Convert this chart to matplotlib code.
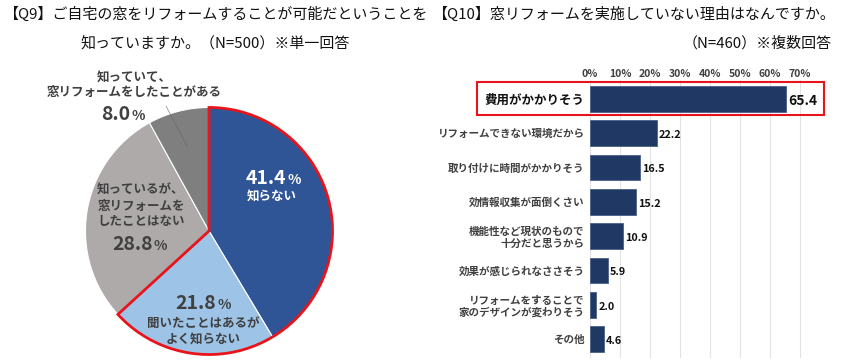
import matplotlib
matplotlib.use("Agg")
import matplotlib.pyplot as plt
from matplotlib.patches import Wedge, Rectangle
import numpy as np

plt.rcParams['font.family'] = ['Noto Sans CJK JP', 'DejaVu Sans']

# ---- data ----
pie_labels = ["知らない", "聞いたことはあるが\nよく知らない",
              "知っているが、\n窓リフォームを\nしたことはない",
              "知っていて、\n窓リフォームをしたことがある"]
pie_values = [41.4, 21.8, 28.8, 8.0]
pie_colors = ["#2F5597", "#9DC3E6", "#AEAAAA", "#7F7F7F"]

bar_labels = ["費用がかかりそう", "リフォームできない環境だから", "取り付けに時間がかかりそう",
              "効情報収集が面倒くさい", "機能性など現状のもので\n十分だと思うから",
              "効果が感じられなささそう", "リフォームをすることで\n家のデザインが変わりそう", "その他"]
bar_values = [65.4, 22.2, 16.5, 15.2, 10.9, 5.9, 2.0, 4.6]
x_ticks = [0, 10, 20, 30, 40, 50, 60, 70, 80]

W, H = 859, 362
fig = plt.figure(figsize=(W/100, H/100), dpi=100)
fig.patch.set_facecolor("white")

def fx(px): return px / W
def fy(py): return 1 - py / H

TXT = "#404040"

# ---- titles ----
fig.text(fx(215), fy(14), "【Q9】ご自宅の窓をリフォームすることが可能だということを",
         ha="center", va="center", fontsize=10.8, color="#111111")
fig.text(fx(215), fy(43), "知っていますか。（N=500）※単一回答",
         ha="center", va="center", fontsize=10.8, color="#111111")
fig.text(fx(432), fy(14), "【Q10】窓リフォームを実施していない理由はなんですか。",
         ha="left", va="center", fontsize=10.8, color="#111111")
fig.text(fx(832), fy(43), "（N=460）※複数回答",
         ha="right", va="center", fontsize=10.8, color="#111111")

# ---- pie ----
cx, cy, R = 209, 231, 126
pax = fig.add_axes([fx(cx - R), fy(cy + R), 2*R/W, 2*R/H])
wedges, _ = pax.pie(pie_values, colors=pie_colors, startangle=90, counterclock=False,
                    radius=1, wedgeprops=dict(edgecolor="white", linewidth=0.8))
pax.set_xlim(-1.02, 1.02)
pax.set_ylim(-1.02, 1.02)
pax.set_aspect("equal")
pax.axis("off")
total = sum(pie_values)
end_ang = 90 - 360 * (pie_values[0] + pie_values[1]) / total
pax.add_patch(Wedge((0, 0), 1.0, end_ang, 90, fill=False, edgecolor="#E8141B",
                    linewidth=2, zorder=5))

def pct(xp, yp, val, color, size, suffix_size):
    fig.text(fx(xp), fy(yp), f"{val:.1f}", ha="right", va="baseline",
             fontsize=size, fontweight="bold", color=color)
    fig.text(fx(xp + 1), fy(yp), "%", ha="left", va="baseline",
             fontsize=suffix_size, fontweight="bold", color=color)

# slice 1
pct(286, 184, pie_values[0], "white", 14, 10)
fig.text(fx(272), fy(196), pie_labels[0], ha="center", va="center",
         fontsize=9, fontweight="bold", color="white")
# slice 2
pct(216, 309, pie_values[1], TXT, 14, 10)
fig.text(fx(203), fy(331), pie_labels[1], ha="center", va="center",
         fontsize=9, fontweight="bold", color=TXT, linespacing=1.25)
# slice 3
fig.text(fx(141), fy(206), pie_labels[2], ha="center", va="center",
         fontsize=9, fontweight="bold", color=TXT, linespacing=1.25)
pct(153, 250, pie_values[2], TXT, 14, 10)
# slice 4
fig.text(fx(134), fy(85), pie_labels[3], ha="center", va="center",
         fontsize=9, fontweight="bold", color=TXT, linespacing=1.2, zorder=6)
pct(130, 120, pie_values[3], TXT, 14, 10)
fig.add_artist(plt.Line2D([fx(166), fx(187)], [fy(106), fy(146)],
                          color="#666666", linewidth=0.4))

# ---- bars ----
bax = fig.add_axes([fx(590), fy(358), (830 - 590)/W, (358 - 80)/H])
y = np.arange(len(bar_values))
bax.barh(y, bar_values, height=0.75, color="#203864", edgecolor="#4a5f8a",
         linewidth=0.6, zorder=3)
bax.set_ylim(len(bar_values) - 0.45, -0.55)
bax.set_xlim(0, 80)
bax.set_xticks(x_ticks)
bax.set_xticklabels([f"{t}%" if t < 80 else "" for t in x_ticks],
                    fontsize=7.5, fontweight="bold", color=TXT)
bax.xaxis.tick_top()
bax.tick_params(axis="x", length=0, pad=1)
bax.grid(axis="x", color="#E3E3E3", linewidth=0.8, zorder=0)
bax.set_yticks(y)
bax.set_yticklabels(bar_labels, fontsize=7.6, fontweight="bold", color=TXT,
                    linespacing=1.2)
bax.tick_params(axis="y", length=0, pad=4)
tl = bax.get_yticklabels()[0]
tl.set_fontsize(9.0)
tl.set_color("#111111")
for s in bax.spines.values():
    s.set_visible(False)
for i, v in enumerate(bar_values):
    bax.text(v + 0.8, i + 0.05, f"{v:.1f}", ha="left", va="center",
             fontsize=10 if i == 0 else 7.8, fontweight="bold", color="#111111")

fig.add_artist(Rectangle((fx(477), fy(115)), (824 - 477)/W, (115 - 82)/H,
                         fill=False, edgecolor="#E8141B", linewidth=1.5,
                         transform=fig.transFigure))

fig.savefig("out.png", dpi=100, facecolor="white")
